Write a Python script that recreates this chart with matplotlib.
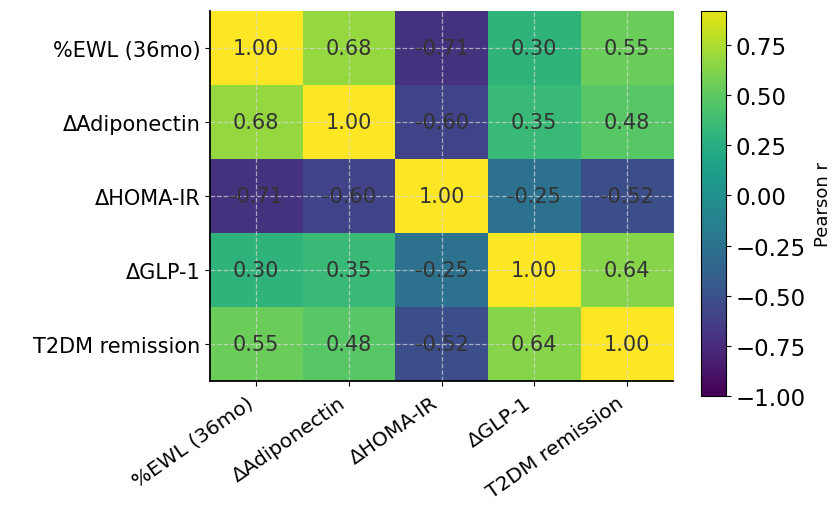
import matplotlib
matplotlib.use("Agg")
import matplotlib.pyplot as plt
import numpy as np
from matplotlib.cm import ScalarMappable
from matplotlib.colors import ListedColormap, Normalize

labels = ["%EWL (36mo)", "ΔAdiponectin", "ΔHOMA-IR", "ΔGLP-1", "T2DM remission"]
row_ewl = [1.00, 0.68, -0.71, 0.30, 0.55]
row_adipo = [0.68, 1.00, -0.60, 0.35, 0.48]
row_homa = [-0.71, -0.60, 1.00, -0.25, -0.52]
row_glp = [0.30, 0.35, -0.25, 1.00, 0.64]
row_t2dm = [0.55, 0.48, -0.52, 0.64, 1.00]
cbar_ticks = [-1.00, -0.75, -0.50, -0.25, 0.00, 0.25, 0.50, 0.75]
cbar_top = 0.92

corr = np.array([row_ewl, row_adipo, row_homa, row_glp, row_t2dm])

fig = plt.figure(figsize=(8.35, 5.06), dpi=100)
ax = fig.add_axes([0.2515, 0.245, 0.5545, 0.731])
cax = fig.add_axes([0.8395, 0.2154, 0.0299, 0.761])

ax.imshow(corr, cmap="viridis", vmin=-1, vmax=1, aspect="auto")

# value labels in each cell
for i in range(corr.shape[0]):
    for j in range(corr.shape[1]):
        ax.text(j, i, f"{corr[i, j]:.2f}", ha="center", va="center",
                color="#333333", fontsize=15)

ax.set_xticks(range(len(labels)))
ax.set_yticks(range(len(labels)))
ax.set_xticklabels(labels, rotation=35, ha="right", fontsize=14.5)
ax.set_yticklabels(labels, fontsize=15)
ax.tick_params(axis="x", pad=5)
ax.grid(True, linestyle="--", color="#d8d8d8", alpha=0.7, linewidth=0.9)
ax.spines["top"].set_visible(False)
ax.spines["right"].set_visible(False)
ax.spines["left"].set_linewidth(1.3)
ax.spines["bottom"].set_linewidth(1.3)

# colour bar runs from -1 up to cbar_top
viridis = plt.get_cmap("viridis")
frac = (cbar_top + 1) / 2
bar_cmap = ListedColormap(viridis(np.linspace(0, frac, 256)))
sm = ScalarMappable(norm=Normalize(-1, cbar_top), cmap=bar_cmap)
cb = fig.colorbar(sm, cax=cax, ticks=cbar_ticks)
cb.ax.tick_params(labelsize=16.5)
cb.set_label("Pearson r", fontsize=13, labelpad=6)
cb.ax.set_yticklabels([f"{t:.2f}".replace("-", "\u2212") for t in cbar_ticks])

fig.savefig("out.png", dpi=100)
